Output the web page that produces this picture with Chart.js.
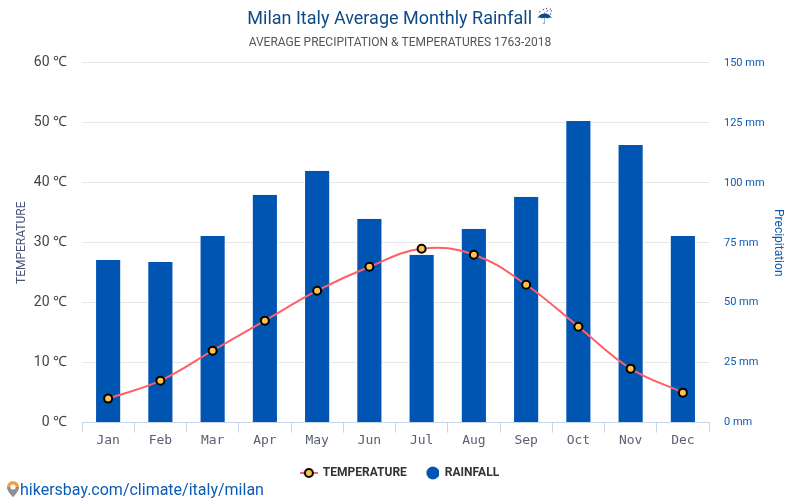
<!DOCTYPE html>
<html>
<head>
<meta charset="utf-8">
<style>
html, body { margin: 0; padding: 0; background: #fff; }
#wrap { position: relative; width: 800px; height: 500px; overflow: hidden; }
#source { position: absolute; left: 6px; top: 480px; font: 16px Roboto, sans-serif; color: #0d5bb5; line-height: 20px; white-space: nowrap; }
#source svg { vertical-align: -3px; }
</style>
<script src="https://cdn.jsdelivr.net/npm/chart.js@4"></script>
</head>
<body>
<div id="wrap">
<canvas id="rainChart" width="800" height="500"></canvas>
<div id="source"><svg width="14" height="18" viewBox="0 0 14 18"><path d="M7 1a6 6 0 0 0-6 6c0 4 6 10 6 10s6-6 6-10a6 6 0 0 0-6-6z" fill="#f0a045"/><path d="M7 17S1 11 1 7h12c0 4-6 10-6 10z" fill="#8a8f99"/><circle cx="7" cy="7" r="2.6" fill="#fff"/></svg>hikersbay.com/climate/italy/milan</div>
</div>
<script>
var months = ['Jan', 'Feb', 'Mar', 'Apr', 'May', 'Jun', 'Jul', 'Aug', 'Sep', 'Oct', 'Nov', 'Dec'];
var temperature = [4, 7, 12, 17, 22, 26, 29, 28, 23, 16, 9, 5];
var rainfall = [67.8, 67, 77.8, 95, 105, 85, 70, 80.8, 94.2, 125.8, 115.8, 77.8];

// legend glyphs: dash with the marker on top, and a plain dot for the bars
var lineKey = document.createElement('canvas');
lineKey.width = 18;
lineKey.height = 12;
var k = lineKey.getContext('2d');
k.strokeStyle = '#ff5f67';
k.lineWidth = 2;
k.beginPath(); k.moveTo(0, 6); k.lineTo(18, 6); k.stroke();
k.fillStyle = '#ffc04d';
k.strokeStyle = '#000';
k.beginPath(); k.arc(9, 6, 4, 0, Math.PI * 2); k.fill(); k.stroke();

var barKey = document.createElement('canvas');
barKey.width = 16;
barKey.height = 14;
var b = barKey.getContext('2d');
b.fillStyle = '#0055b3';
b.beginPath(); b.arc(10, 7, 6.5, 0, Math.PI * 2); b.fill();

var ctx = document.getElementById('rainChart');
var myChart = new Chart(ctx, {
    data: {
        labels: months,
        datasets: [
            {
                type: 'line',
                label: 'TEMPERATURE',
                data: temperature,
                yAxisID: 'y',
                order: 1,
                borderColor: '#ff5f67',
                borderWidth: 2,
                tension: 0.4,
                pointRadius: 4,
                pointBorderWidth: 2,
                pointBackgroundColor: '#ffc04d',
                pointBorderColor: '#000',
            },
            {
                type: 'bar',
                label: 'RAINFALL',
                data: rainfall,
                yAxisID: 'y1',
                order: 2,
                backgroundColor: '#0055b3',
                borderColor: '#fff',
                borderWidth: { left: 1, right: 1 },
                barPercentage: 0.5,
                categoryPercentage: 1,
            }
        ]
    },
    options: {
        responsive: false,
        animation: false,
        layout: { padding: { top: 9, bottom: 11 } },
        plugins: {
            title: {
                display: true,
                text: 'Milan Italy Average Monthly Rainfall \u2614\uFE0E',
                color: '#0f4a85',
                font: { family: 'Roboto, "DejaVu Sans"', size: 18, weight: 'normal' },
                padding: { top: 0, bottom: 5 },
            },
            subtitle: {
                display: true,
                text: 'AVERAGE PRECIPITATION & TEMPERATURES 1763-2018',
                color: '#555',
                font: { family: 'Roboto', size: 12, weight: 'normal' },
                padding: { bottom: 12.9 },
            },
            legend: {
                position: 'bottom',
                labels: {
                    usePointStyle: true,
                    pointStyleWidth: 16,
                    color: '#333',
                    font: { family: 'Roboto', size: 12, weight: 'bold' },
                    boxHeight: 10,
                    padding: 16,
                    generateLabels: function (chart) {
                        var items = Chart.defaults.plugins.legend.labels.generateLabels(chart);
                        items[0].pointStyle = lineKey;
                        items[1].pointStyle = barKey;
                        return items;
                    },
                },
            },
        },
        scales: {
            x: {
                afterFit: function (scale) { scale.height = 28.4; },
                grid: {
                    color: '#c5d5ea',
                    drawOnChartArea: false,
                    tickLength: 10,
                },
                border: { color: '#c5d5ea' },
                ticks: {
                    color: '#5a6072',
                    font: { family: 'DejaVu Sans Mono', size: 13 },
                    maxRotation: 0,
                    padding: 0,
                },
            },
            y: {
                position: 'left',
                min: 0,
                max: 60,
                afterFit: function (scale) { scale.width = 82; },
                ticks: {
                    stepSize: 10,
                    color: '#444',
                    font: { family: 'Roboto', size: 14 },
                    padding: 15,
                    callback: function (value) { return value + ' ℃'; },
                },
                title: {
                    display: true,
                    text: 'TEMPERATURE',
                    color: '#4a5578',
                    font: { family: 'Roboto', size: 12 },
                    padding: { top: 15, bottom: 4 },
                },
                grid: { color: '#e6e6e6', drawTicks: false },
                border: { display: false },
            },
            y1: {
                position: 'right',
                min: 0,
                max: 150,
                afterFit: function (scale) { scale.width = 91; },
                ticks: {
                    stepSize: 25,
                    color: '#0d5bb5',
                    font: { family: 'Roboto', size: 11 },
                    padding: 15,
                    callback: function (value) { return value + ' mm'; },
                },
                title: {
                    display: true,
                    text: 'Precipitation',
                    color: '#0d5bb5',
                    font: { family: 'Roboto', size: 12 },
                    padding: { top: 15, bottom: 4 },
                },
                grid: { drawOnChartArea: false, drawTicks: false },
                border: { display: false },
            },
        },
    },
});
</script>
</body>
</html>
